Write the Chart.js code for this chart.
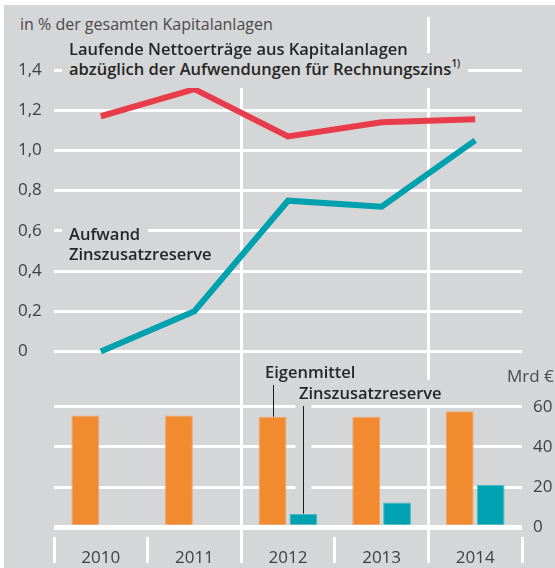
<!DOCTYPE html>
<html lang="de">
<head>
<meta charset="utf-8">
<title>Kapitalanlagen und Zinszusatzreserve</title>
<script src="https://cdn.jsdelivr.net/npm/chart.js@4.4.1/dist/chart.umd.min.js"></script>
<style>
  html, body { margin: 0; padding: 0; background: #fff; }
  body { width: 555px; height: 568px; position: relative; overflow: hidden; font-family: 'Open Sans', sans-serif; }
  #panel { position: absolute; left: 4px; top: 5px; right: 0; bottom: 0; background: #d5d6d8; }
  #wrap { position: absolute; left: 0; top: 0; width: 555px; height: 568px; }
  .lbl { position: absolute; white-space: nowrap; line-height: 20px; font-size: 16.5px; font-weight: 600; color: #262626; }
  .box { background: #d5d6d8; }
  .light { font-weight: 400; color: #4a4a4a; }
  sup { font-size: 10px; line-height: 0; vertical-align: 8px; }
</style>
</head>
<body>
<div id="panel"></div>
<div id="wrap"><canvas id="chart"></canvas></div>

<div class="lbl light box" style="left:14px; top:10px; padding:4px 6px 5px 6px; font-size:16px;">in % der gesamten Kapitalanlagen</div>
<div class="lbl box" style="left:62px; top:53px; padding:6px 8px 9px 7px;">abzüglich der Aufwendungen für Rechnungszins<sup>1)</sup></div>
<div class="lbl box" style="left:62px; top:38px; padding:1px 7px 0 7px;">Laufende Nettoerträge aus Kapitalanlagen</div>
<div class="lbl box" style="left:62px; top:222px; padding:2px 8px 0 7px;">Aufwand</div>
<div class="lbl box" style="left:62px; top:244px; padding:0 7px;">Zinszusatzreserve</div>
<div class="lbl" style="left:265px; top:362px;">Eigenmittel</div>
<div class="lbl box" style="left:292px; top:380px; padding:3px 7px 2px 7px;">Zinszusatzreserve</div>
<div class="lbl light" style="left:507px; top:366px; font-size:17px;">Mrd €</div>

<script>
// --- data ---
const years = ['2010', '2011', '2012', '2013', '2014'];
const nettoertraege = [1.17, 1.305, 1.07, 1.14, 1.155];   // % der Kapitalanlagen
const aufwandZZR = [0, 0.20, 0.75, 0.72, 1.05];           // % der Kapitalanlagen
const eigenmittel = [55.6, 55.6, 55.0, 55.0, 57.7];       // Mrd €
const zinszusatzreserve = [null, null, 6.8, 12.3, 21.0];  // Mrd €
const pctTicks = [0, 0.2, 0.4, 0.6, 0.8, 1.0, 1.2, 1.4];
const pctTickLabels = ['0', '0,2', '0,4', '0,6', '0,8', '1,0', '1,2', '1,4'];
const mrdTicks = [0, 20, 40, 60];
const mrdTickLabels = ['0', '20', '40', '60'];
const dividersAfter = ['2011', '2013'];
const noteYear = '2012';

const GRAY = '#d5d6d8';
const FONT = "'Open Sans', sans-serif";

// white dividers between periods, leader lines for the bar notes
const decor = {
    id: 'decor',
    beforeDatasetsDraw(chart) {
        const { ctx, chartArea, scales: { x } } = chart;
        ctx.save();
        ctx.strokeStyle = '#fff';
        ctx.lineWidth = 3;
        dividersAfter.forEach(y => {
            const i = years.indexOf(y);
            const px = Math.round((x.getPixelForTick(i) + x.getPixelForTick(i + 1)) / 2) + 0.5;
            ctx.beginPath();
            ctx.moveTo(px, chartArea.top);
            ctx.lineTo(px, chartArea.bottom);
            ctx.stroke();
        });
        ctx.restore();
    },
    afterDatasetsDraw(chart) {
        const { ctx } = chart;
        const i = years.indexOf(noteYear);
        const own = chart.getDatasetMeta(2).data[i];
        const zzr = chart.getDatasetMeta(3).data[i];
        ctx.save();
        ctx.fillStyle = GRAY;
        ctx.fillRect(zzr.x - 8, 405, 16, zzr.y - 406);
        ctx.strokeStyle = '#1a1a1a';
        ctx.lineWidth = 1;
        ctx.beginPath();
        const ox = Math.round(own.x) + 0.5, zx = Math.round(zzr.x) + 0.5;
        ctx.moveTo(ox, 385); ctx.lineTo(ox, own.y);
        ctx.moveTo(zx, 406); ctx.lineTo(zx, zzr.y);
        ctx.stroke();
        ctx.restore();
    }
};

// fixed axis boxes so the plot area sits where the original has it
const fitY = w => s => { s.width = w; s.paddingTop = 0; s.paddingBottom = 0; };

new Chart(document.getElementById('chart'), {
    type: 'bar',
    data: {
        labels: years,
        datasets: [
            { type: 'line', label: 'Laufende Nettoerträge', data: nettoertraege, yAxisID: 'y',
              borderColor: '#e83c4b', borderWidth: 6, pointRadius: 0, tension: 0 },
            { type: 'line', label: 'Aufwand Zinszusatzreserve', data: aufwandZZR, yAxisID: 'y',
              borderColor: '#00a1ae', borderWidth: 6, pointRadius: 0, tension: 0 },
            { label: 'Eigenmittel', data: eigenmittel, yAxisID: 'y2',
              backgroundColor: '#f28a30', borderColor: '#f4a363', borderWidth: 1,
              categoryPercentage: 0.66, barPercentage: 0.9 },
            { label: 'Zinszusatzreserve', data: zinszusatzreserve, yAxisID: 'y2',
              backgroundColor: '#00a2b1', borderColor: '#45bcc6', borderWidth: 1,
              categoryPercentage: 0.66, barPercentage: 0.9 }
        ]
    },
    options: {
        responsive: true,
        maintainAspectRatio: false,
        animation: false,
        devicePixelRatio: 1,
        layout: { padding: { left: 18, top: 17, right: 0, bottom: 0 } },
        plugins: { legend: { display: false }, tooltip: { enabled: false } },
        scales: {
            x: {
                offset: true,
                border: { display: false },
                grid: { offset: true, drawOnChartArea: false, drawTicks: true, tickLength: 26, tickWidth: 3, tickColor: '#fff' },
                ticks: { padding: -15, color: '#404040', font: { family: FONT, size: 17 }, maxRotation: 0, autoSkip: false },
                afterFit: s => { s.height = 31; s.paddingLeft = 0; s.paddingRight = 0; }
            },
            y: {
                position: 'left',
                min: -0.9226, max: 1.6636,
                border: { display: false },
                grid: { color: '#fff', lineWidth: 3, drawTicks: false },
                ticks: { crossAlign: 'far', padding: 0, color: '#404040', font: { family: FONT, size: 17 },
                         callback: (v, i) => pctTickLabels[i] },
                afterBuildTicks: s => { s.ticks = pctTicks.map(v => ({ value: v })); },
                afterFit: fitY(36)
            },
            y2: {
                position: 'right',
                min: -4.83, max: 253.9,
                border: { display: false },
                grid: { color: '#fff', lineWidth: c => (c.tick && c.tick.value === 0 ? 5 : 3), drawTicks: false },
                ticks: { crossAlign: 'near', padding: 11, color: '#404040', font: { family: FONT, size: 17 },
                         callback: (v, i) => mrdTickLabels[i] },
                afterBuildTicks: s => { s.ticks = mrdTicks.map(v => ({ value: v })); },
                afterFit: fitY(33)
            }
        }
    },
    plugins: [decor]
});
</script>
</body>
</html>
